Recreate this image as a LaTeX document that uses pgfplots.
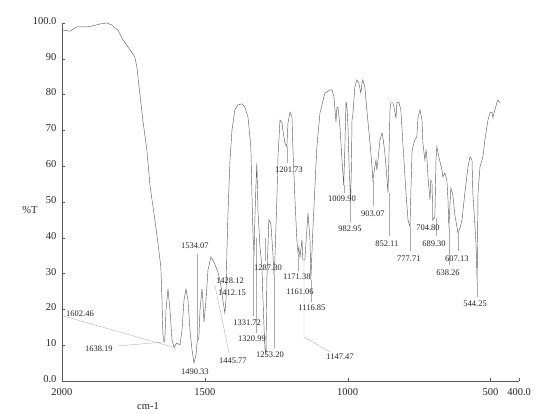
\documentclass[border=0pt]{standalone}
\usepackage{fontspec}
\setmainfont{Liberation Serif}
\usepackage{pgfplots}
\pgfplotsset{compat=1.18}

\begin{document}
\begin{tikzpicture}
\begin{axis}[scale only axis,width=457pt,height=358pt,
  x dir=reverse,xmin=400,xmax=2000,ymin=0,ymax=100,
  axis x line=bottom,axis y line=left,axis line style={-,gray!70!black,line width=0.5pt},
  xtick={2000,1500,1000,500,400},xticklabels={2000,1500,1000,500,400.0},
  ytick={0,10,...,100},yticklabels={0.0,10,20,30,40,50,60,70,80,90,100.0},
  tick align=inside,major tick length=3pt,tick style={gray!70!black,line width=0.4pt},
  tick label style={font=\fontsize{10.5}{12}\selectfont,text=black!85},
  x tick label style={yshift=-4pt},y tick label style={xshift=-2pt,yshift=2pt},
  /pgf/number format/assume math mode=true,
  clip=false]
% transmittance trace
\addplot[gray!75!black,line width=0.45pt] coordinates {
(1997,98.0) (1972,97.7) (1948,98.9) (1913,98.9) (1892,99.2) (1867,99.7) (1843,100.0) (1825,99.4)
(1815,98.6) (1804,98.0) (1787,95.3) (1762,92.5) (1745,90.5) (1738,87.7) (1727,79.9) (1717,72.9)
(1703,64.5) (1692,54.7) (1685,50.6) (1675,45.0) (1664,38.5) (1654,31.8) (1650,22.6) (1647,13.4)
(1643,10.9) (1640,11.5) (1636,19.8) (1629,25.7) (1622,19.8) (1615,11.5) (1608,9.5) (1598,10.6)
(1587,10.1) (1580,14.2) (1573,22.6) (1566,25.7) (1559,22.6) (1552,14.2) (1545,8.7) (1538,5.0)
(1531,7.3) (1527,11.0) (1521,12.0) (1517,19.8) (1510,25.7) (1507,22.6) (1503,16.5) (1496,22.6)
(1489,31.0) (1479,34.6) (1468,33.2) (1454,30.4) (1444,26.8) (1437,22.6) (1430,19.0) (1426,22.6)
(1423,35.8) (1419,46.9) (1412,61.7) (1405,70.1) (1395,75.7) (1384,77.1) (1370,77.4) (1360,76.5)
(1349,73.7) (1339,65.4) (1335,51.4) (1332,42.2) (1328,34.6) (1325,45.0) (1321,55.0) (1318,61.0)
(1314,47.5) (1307,37.4) (1300,31.8) (1297,23.5) (1290,9.5) (1286,7.3) (1283,28.2) (1276,45.0)
(1269,44.1) (1262,35.8) (1258,29.6) (1255,33.8) (1248,50.6) (1244,62.6) (1237,72.9) (1230,72.1)
(1227,70.1) (1220,66.5) (1213,65.4) (1209,72.1) (1202,75.1) (1195,73.7) (1192,65.4) (1185,51.4)
(1178,39.4) (1174,35.8) (1171,37.4) (1167,34.6) (1160,39.4) (1157,33.8) (1150,33.8) (1139,46.9)
(1132,39.4) (1129,28.2) (1122,42.2) (1108,65.4) (1097,74.9) (1080,80.4) (1062,81.3) (1055,81.3)
(1048,79.3) (1041,72.3) (1038,76.3) (1034,76.5) (1027,70.9) (1020,61.7) (1014,54.7) (1010,65.0)
(1006,77.9) (1003,77.0) (999,70.9) (995,60.0) (990,50.0) (987,60.0) (985,72.9) (982,74.3)
(975,82.1) (968,84.1) (961,83.2) (954,80.4) (950,83.2) (947,84.1) (940,82.1) (933,75.7)
(922,66.5) (915,59.8) (912,56.1) (905,59.8) (901,61.7) (898,58.9) (894,61.7) (887,67.3)
(880,69.3) (877,68.2) (870,63.7) (863,57.0) (859,52.5) (856,61.7) (852,75.7) (849,77.7)
(842,77.7) (838,76.5) (831,73.5) (828,77.7) (821,77.9) (814,75.7) (807,66.5) (796,52.5)
(789,45.0) (782,43.0) (779,52.5) (775,63.7) (772,65.4) (765,67.3) (758,68.2) (754,73.7)
(747,75.7) (740,72.9) (737,66.5) (730,61.7) (726,64.5) (723,62.6) (719,57.0) (712,50.6)
(709,56.1) (705,55.3) (702,45.0) (695,45.8) (691,61.7) (688,65.4) (681,62.6) (670,58.9)
(667,57.0) (660,58.1) (653,56.1) (649,50.6) (646,43.0) (639,53.9) (632,52.0) (625,46.4)
(614,41.3) (607,42.7) (600,45.0) (590,52.5) (579,59.8) (572,62.6) (565,61.7) (562,52.5)
(551,38.5) (547,27.7) (544,52.5) (537,59.8) (530,61.7) (527,62.6) (520,67.3) (513,70.9)
(509,72.9) (502,74.9) (495,75.1) (492,73.5) (485,75.7) (478,77.7) (474,78.5) (467,77.7)
};
% leader lines from the picked peaks to their labels
\begin{scope}[gray!65,line width=0.35pt]
\draw (axis cs:1997,18.2) -- (axis cs:1601,9.2);
\draw (axis cs:1804,9.8) -- (axis cs:1643,10.9);
\draw (axis cs:1528,35.5) -- (axis cs:1528,11.5);
\draw (axis cs:1415,7.8) -- (axis cs:1465,26.8);
\draw (axis cs:1332,34.6) -- (axis cs:1332,18.2);
\draw (axis cs:1321,40.0) -- (axis cs:1321,13.4);
\draw (axis cs:1288,40.0) -- (axis cs:1288,33.5);
\draw (axis cs:1258,29.6) -- (axis cs:1258,9.2);
\draw (axis cs:1213,65.4) -- (axis cs:1213,61.0);
\draw (axis cs:1174,35.5) -- (axis cs:1174,30.8);
\draw (axis cs:1129,28.2) -- (axis cs:1129,22.2);
\draw (axis cs:1153,33.8) -- (axis cs:1153,12.3) -- (axis cs:1062,8.1);
\draw (axis cs:1014,54.7) -- (axis cs:1014,52.6);
\draw (axis cs:990,50.0) -- (axis cs:990,44.5);
\draw (axis cs:912,56.1) -- (axis cs:912,48.8);
\draw (axis cs:856,52.5) -- (axis cs:856,40.4);
\draw (axis cs:782,43.0) -- (axis cs:782,36.3);
\draw (axis cs:705,50.0) -- (axis cs:705,44.8);
\draw (axis cs:691,45.5) -- (axis cs:691,40.4);
\draw (axis cs:646,43.0) -- (axis cs:646,32.3);
\draw (axis cs:614,41.3) -- (axis cs:614,36.3);
\draw (axis cs:547,27.7) -- (axis cs:547,23.6);
\end{scope}
\begin{scope}[every node/.style={font=\fontsize{8.5}{9}\selectfont,text=black!85,inner sep=0pt}]
\node at (axis cs:1937,18.7) {1602.46};
\node at (axis cs:1871,8.9) {1638.19};
\node at (axis cs:1535,37.7) {1534.07};
\node at (axis cs:1412,27.9) {1428.12};
\node at (axis cs:1405,24.6) {1412.15};
\node at (axis cs:1402,5.6) {1445.77};
\node at (axis cs:1535,2.5) {1490.33};
\node at (axis cs:1352,16.2) {1331.72};
\node at (axis cs:1335,11.7) {1320.99};
\node at (axis cs:1279,31.6) {1287.30};
\node at (axis cs:1272,7.3) {1253.20};
\node at (axis cs:1206,58.9) {1201.73};
\node at (axis cs:1178,29.1) {1171.38};
\node at (axis cs:1167,24.9) {1161.06};
\node at (axis cs:1125,20.4) {1116.85};
\node at (axis cs:1027,6.7) {1147.47};
\node at (axis cs:1020,50.8) {1009.90};
\node at (axis cs:992,42.5) {982.95};
\node at (axis cs:912,46.6) {903.07};
\node at (axis cs:863,38.3) {852.11};
\node at (axis cs:786,34.1) {777.71};
\node at (axis cs:719,42.7) {704.80};
\node at (axis cs:698,38.3) {689.30};
\node at (axis cs:649,30.2) {638.26};
\node at (axis cs:618,34.1) {607.13};
\node at (axis cs:554,21.5) {544.25};
\end{scope}
\node[font=\fontsize{10.5}{12}\selectfont,text=black!85] at (axis cs:2112,47.8) {\%T};
\node[font=\fontsize{10.5}{12}\selectfont,text=black!85] at (axis cs:1699,-6.9) {cm-1};
\path (axis cs:2217,-9.2) rectangle (axis cs:330.5,106.4);
\end{axis}
\end{tikzpicture}
\end{document}
